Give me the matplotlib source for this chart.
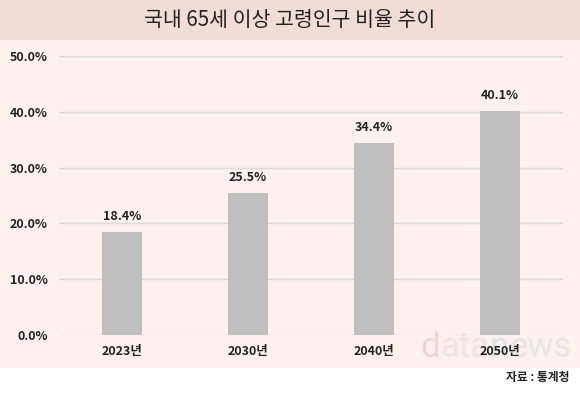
import matplotlib
matplotlib.use("Agg")
import matplotlib.pyplot as plt
from matplotlib.patches import Rectangle

plt.rcParams['font.family'] = ['Noto Sans CJK KR', 'DejaVu Sans']

categories = ['2023년', '2030년', '2040년', '2050년']
values = [18.4, 25.5, 34.4, 40.1]
yticks = [0, 10, 20, 30, 40, 50]
title = '국내 65세 이상 고령인구 비율 추이'
source = '자료 : 통계청'

W, H = 580, 395
fig = plt.figure(figsize=(W/100, H/100), dpi=100)
fig.patch.set_facecolor('white')

# background bands
fig.patches.append(Rectangle((0, 1-40/H), 1, 40/H, transform=fig.transFigure,
                             facecolor='#f2ddd6', edgecolor='none', zorder=-5))
fig.patches.append(Rectangle((0, 1-368/H), 1, (368-40)/H, transform=fig.transFigure,
                             facecolor='#fcf1ee', edgecolor='none', zorder=-5))
fig.text(0.5, 1-20/H, title, ha='center', va='center', fontsize=14.8, color='#222222')

# watermark (pieces placed one after another)
pieces = [('d', '#f5d2d0'), ('ata', '#f8e0de'), ('n', '#dfe4ef'), ('ews', '#e9e6e8')]
xpos = 420
fig.canvas.draw()
for txt, col in pieces:
    t = fig.text(xpos/W, 1-357/H, txt, fontsize=25, color=col, ha='left', va='baseline',
                 family=['Roboto', 'DejaVu Sans'], zorder=-1)
    bb = t.get_window_extent(renderer=fig.canvas.get_renderer())
    xpos = bb.x1 + 0.5

# axes: x from 59 to 563 px, y from 56 (50%) to 335 (0%)
ax = fig.add_axes([59/W, 1-335/H, (563-59)/W, (335-56)/H])
ax.set_zorder(2)
ax.set_facecolor('none')
x = list(range(len(categories)))
ax.bar(x, values, width=0.32, color='#bfbfbf', zorder=3)
for xi, v in zip(x, values):
    ax.text(xi, v + 1.6, f'{v:.1f}%', ha='center', va='bottom', fontsize=9,
            fontweight='bold', color='#222222')
ax.set_xlim(-0.5, 3.5)
ax.set_ylim(0, 50)
ax.set_yticks(yticks)
ax.set_yticklabels([f'{t:.1f}%' for t in yticks], fontsize=9, fontweight='bold', color='#222222')
ax.set_xticks(x)
ax.set_xticklabels(categories, fontsize=9, fontweight='bold', color='#222222')
ax.tick_params(axis='both', length=0)
ax.tick_params(axis='y', pad=8)
ax.tick_params(axis='x', pad=7)
ax.grid(axis='y', color='#dcdcdc', linewidth=1, zorder=0)
for s in ax.spines.values():
    s.set_visible(False)

fig.text(570/W, 1-377/H, source, ha='right', va='center', fontsize=8.5, fontweight='bold', color='#222222')

fig.savefig('out.png', dpi=100)
